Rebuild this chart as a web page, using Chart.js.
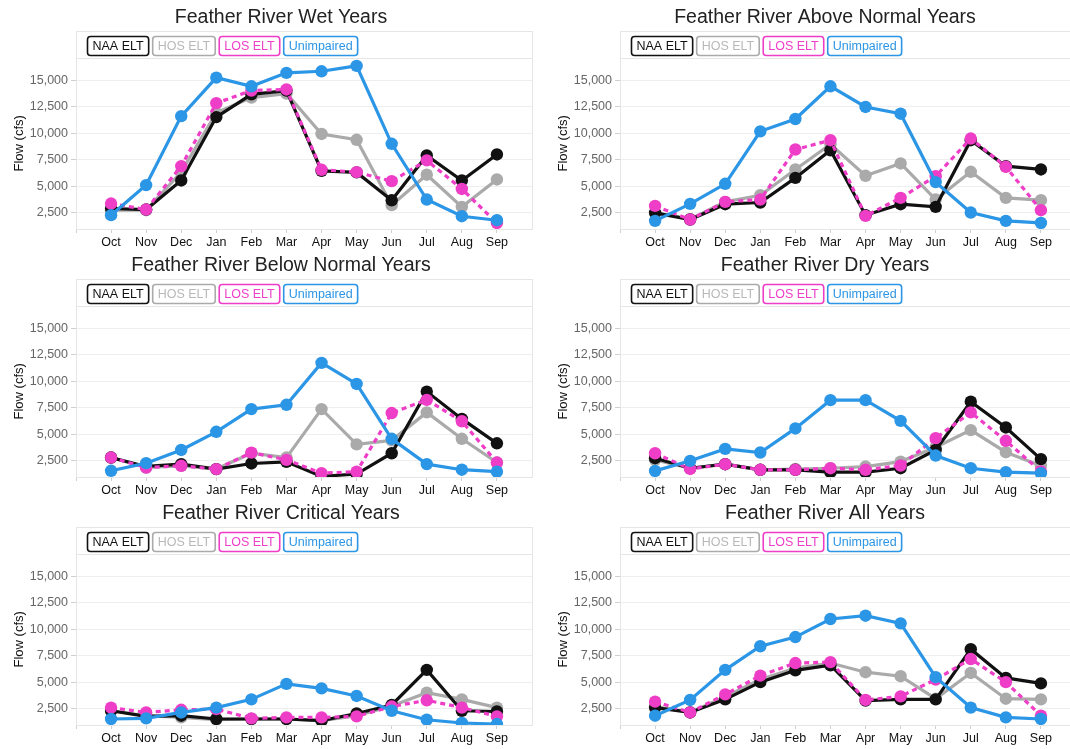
<!DOCTYPE html>
<html lang="en">
<head>
    <meta charset="UTF-8">
    <title>Feather River Flows</title>
    <script src="https://cdn.jsdelivr.net/npm/chart.js"></script>
    <style>
        body {
            margin: 0;
            background: #fff;
            font-family: 'Liberation Sans', Arial, sans-serif;
        }

        /* page holds the 2 x 3 grid, right column runs off the edge like the original */
        .page {
            position: relative;
            width: 1070px;
            height: 749px;
            overflow: hidden;
        }

        .panel {
            position: absolute;
            width: 562px;
            height: 250px;
        }
    </style>
</head>
<body>

    <div class="page" id="page"></div>

    <script>
        const FONT = "'Liberation Sans', Arial, sans-serif";

        const months = ['Oct', 'Nov', 'Dec', 'Jan', 'Feb', 'Mar', 'Apr', 'May', 'Jun', 'Jul', 'Aug', 'Sep'];
        const yTicks = [2500, 5000, 7500, 10000, 12500, 15000];
        const xTicks = [0, 1, 2, 3, 4, 5, 6, 7, 8, 9, 10, 11, 12];

        const seriesNames = ['NAA ELT', 'HOS ELT', 'LOS ELT', 'Unimpaired'];
        const seriesColors = ['#111111', '#aaaaaa', '#ee3ec8', '#2b95e6'];

        // Wet years
        const wetNAA   = [2880, 2780, 5540, 11540, 13700, 14050, 6450, 6300, 3660, 7910, 5540, 8000];
        const wetHOS   = [2720, 2720, 6330, 11950, 13390, 13770, 9940, 9390, 3200, 6080, 3040, 5630];
        const wetLOS   = [3350, 2780, 6900, 12860, 14050, 14160, 6550, 6330, 5470, 7440, 4730, 1510];
        const wetUnimp = [2250, 5100, 11630, 15280, 14460, 15730, 15880, 16390, 9010, 3730, 2150, 1770];

        // Above normal years
        const anNAA   = [2470, 1840, 3290, 3450, 5780, 8400, 2250, 3290, 3040, 9350, 6890, 6580];
        const anHOS   = [2500, 1870, 3510, 4140, 6580, 8970, 5980, 7150, 3730, 6360, 3890, 3670];
        const anLOS   = [3130, 1840, 3510, 3730, 8470, 9350, 2180, 3890, 5940, 9510, 6830, 2720];
        const anUnimp = [1710, 3320, 5220, 10190, 11360, 14460, 12500, 11860, 5380, 2500, 1710, 1520];

        // Below normal years
        const bnNAA   = [2780, 1940, 2160, 1690, 2220, 2380, 1000, 1220, 3190, 9030, 6440, 4130];
        const bnHOS   = [2780, 1840, 2000, 1690, 3190, 2780, 7370, 4030, 4410, 7060, 4560, 2310];
        const bnLOS   = [2780, 1840, 2000, 1690, 3250, 2560, 1310, 1440, 7000, 8250, 6220, 2310];
        const bnUnimp = [1530, 2250, 3500, 5220, 7370, 7780, 11750, 9750, 4560, 2160, 1630, 1440];

        // Dry years
        const dryNAA   = [2720, 1770, 2150, 1620, 1620, 1400, 1400, 1770, 3500, 8070, 5630, 2630];
        const dryHOS   = [2560, 1770, 2150, 1620, 1700, 1770, 1930, 2400, 3760, 5380, 3290, 2000];
        const dryLOS   = [3190, 1700, 2150, 1620, 1620, 1770, 1620, 2030, 4620, 7060, 4370, 1460];
        const dryUnimp = [1520, 2470, 3600, 3260, 5540, 8220, 8220, 6260, 2970, 1770, 1400, 1300];

        // Critical years
        const critNAA   = [2290, 1760, 1820, 1510, 1510, 1510, 1350, 2030, 2840, 6160, 2290, 2220];
        const critHOS   = [2290, 1820, 1660, 1450, 1510, 1510, 1350, 1820, 2750, 4000, 3370, 2590];
        const critLOS   = [2590, 2130, 2380, 2440, 1570, 1660, 1660, 1760, 2690, 3280, 2590, 1760];
        const critUnimp = [1510, 1570, 2130, 2590, 3370, 4840, 4410, 3690, 2290, 1440, 1130, 1030];

        // All years
        const allNAA   = [2590, 2130, 3370, 5000, 6120, 6600, 3250, 3370, 3370, 8120, 5400, 4880];
        const allHOS   = [2690, 2130, 3620, 5250, 6340, 6810, 5940, 5560, 3430, 5870, 3430, 3370];
        const allLOS   = [3150, 2130, 3840, 5620, 6810, 6900, 3310, 3650, 5250, 7190, 5000, 1820];
        const allUnimp = [1820, 3310, 6160, 8400, 9270, 10980, 11290, 10570, 5470, 2590, 1660, 1510];

        const panels = [
            { title: 'Feather River Wet Years',          series: [wetNAA, wetHOS, wetLOS, wetUnimp] },
            { title: 'Feather River Above Normal Years', series: [anNAA, anHOS, anLOS, anUnimp] },
            { title: 'Feather River Below Normal Years', series: [bnNAA, bnHOS, bnLOS, bnUnimp] },
            { title: 'Feather River Dry Years',          series: [dryNAA, dryHOS, dryLOS, dryUnimp] },
            { title: 'Feather River Critical Years',     series: [critNAA, critHOS, critLOS, critUnimp] },
            { title: 'Feather River All Years',          series: [allNAA, allHOS, allLOS, allUnimp] }
        ];

        // title, frame and the boxed legend strip above the plot
        const panelDecor = {
            id: 'panelDecor',
            beforeDatasetsDraw(chart) {
                const { ctx, chartArea: a } = chart;
                ctx.save();
                ctx.strokeStyle = '#e6e6e6';
                ctx.lineWidth = 1;
                ctx.strokeRect(Math.round(a.left) + 0.5, 31.5, a.right - a.left, a.bottom - 31);
                ctx.beginPath();
                ctx.moveTo(a.left, Math.round(a.top) + 0.5);
                ctx.lineTo(a.right, Math.round(a.top) + 0.5);
                ctx.stroke();
                ctx.restore();
            },
            afterDraw(chart, args, opts) {
                const { ctx, chartArea: a } = chart;
                ctx.save();

                ctx.fillStyle = '#222';
                ctx.font = '19.5px ' + FONT;
                ctx.textAlign = 'center';
                ctx.textBaseline = 'middle';
                ctx.fillText(opts.text, chart.width / 2, 18);

                ctx.font = '12.5px ' + FONT;
                let x = a.left + 11;
                const top = 36, h = 19;
                seriesNames.forEach((name, i) => {
                    const w = ctx.measureText(name).width + 10;
                    ctx.beginPath();
                    ctx.roundRect(x + 0.5, top + 0.5, w, h, 3);
                    ctx.lineWidth = 1.6;
                    ctx.strokeStyle = seriesColors[i];
                    ctx.stroke();
                    ctx.fillStyle = i === 1 ? '#b8b8b8' : seriesColors[i];
                    ctx.fillText(name, x + 0.5 + w / 2, top + h / 2 + 1);
                    x += w + 4;
                });
                ctx.restore();
            }
        };

        const drawOrder = [2, 3, 1, 0];

        panels.forEach((p, k) => {
            const col = k % 2;
            const row = Math.floor(k / 2);
            const div = document.createElement('div');
            div.className = 'panel';
            div.style.left = (col * 544) + 'px';
            div.style.top = (row * 248) + 'px';
            const canvas = document.createElement('canvas');
            canvas.width = 562;
            canvas.height = 250;
            div.appendChild(canvas);
            document.getElementById('page').appendChild(div);

            new Chart(canvas.getContext('2d'), {
                type: 'line',
                data: {
                    datasets: p.series.map((vals, i) => ({
                        label: seriesNames[i],
                        data: vals.map((v, j) => ({ x: j + 1, y: v })),
                        borderColor: seriesColors[i],
                        backgroundColor: seriesColors[i],
                        borderWidth: 3.2,
                        borderDash: i === 2 ? [5, 4] : [],
                        pointRadius: 6.2,
                        pointBorderWidth: 0,
                        pointBackgroundColor: seriesColors[i],
                        tension: 0,
                        order: drawOrder[i]
                    }))
                },
                options: {
                    responsive: false,
                    animation: false,
                    devicePixelRatio: 1,
                    layout: { padding: { left: 0, right: 30, top: 57.6, bottom: 0 } },
                    plugins: {
                        legend: { display: false },
                        title: { display: false },
                        tooltip: { enabled: false },
                        panelDecor: { text: p.title }
                    },
                    scales: {
                        x: {
                            type: 'linear',
                            min: 0,
                            max: 13,
                            afterBuildTicks: s => { s.ticks = xTicks.map(v => ({ value: v })); },
                            afterFit: s => { s.height = 21; },
                            ticks: {
                                callback: v => months[v - 1] || '',
                                color: '#111',
                                font: { size: 12.5, family: FONT },
                                padding: 2,
                                maxRotation: 0,
                                autoSkip: false
                            },
                            grid: { drawOnChartArea: false, tickLength: 4, color: '#cfcfcf' },
                            border: { color: '#e6e6e6' }
                        },
                        y: {
                            min: 940,
                            max: 17175,
                            afterBuildTicks: s => { s.ticks = yTicks.map(v => ({ value: v })); },
                            afterFit: s => { s.width = 76; },
                            ticks: {
                                callback: v => v.toLocaleString('en-US'),
                                color: '#666',
                                font: { size: 12.5, family: FONT },
                                padding: 3
                            },
                            grid: { color: '#eeeeee', tickLength: 5, tickColor: '#cfcfcf' },
                            border: { color: '#e6e6e6' },
                            title: {
                                display: true,
                                text: 'Flow (cfs)',
                                color: '#111',
                                font: { size: 13, family: FONT },
                                padding: { top: 12, bottom: 0 }
                            }
                        }
                    }
                },
                plugins: [panelDecor]
            });
        });
    </script>

</body>
</html>
